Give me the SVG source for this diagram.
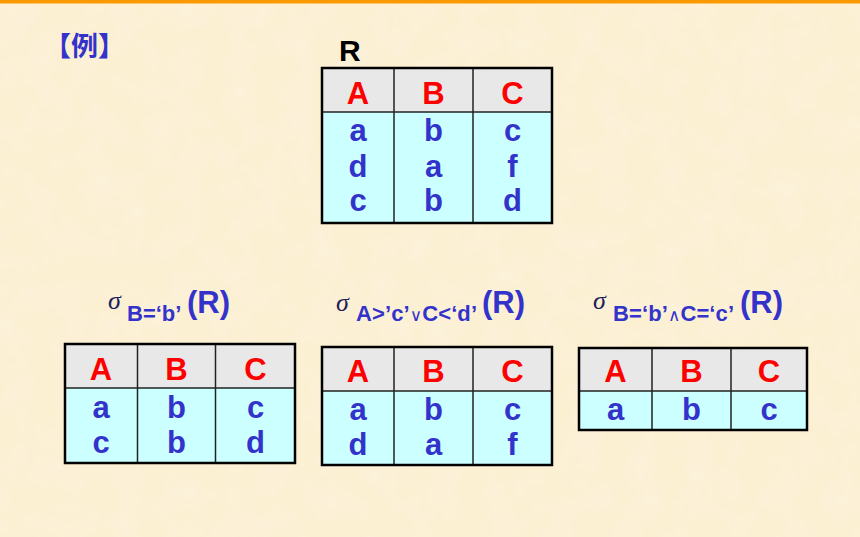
<svg xmlns="http://www.w3.org/2000/svg" width="860" height="537" viewBox="0 0 860 537">
<style>
.bg{fill:#FCF0D3}
.hdr{fill:#E8E8E8}
.body{fill:#CCFFFF}
.outer{fill:none;stroke:#000;stroke-width:2.5}
.inner{stroke:#222;stroke-width:1.5}
.h{font-family:"Liberation Sans",Arial,sans-serif;font-weight:bold;font-size:31px;fill:#FF0000;text-anchor:middle}
.v{font-family:"Liberation Sans",Arial,sans-serif;font-weight:bold;font-size:31px;fill:#3333CC;text-anchor:middle}
.sig{font-family:"Liberation Serif","Times New Roman",serif;font-style:italic;font-size:26px;fill:#1E1E5A}
.sub{font-family:"Liberation Sans","DejaVu Sans",Arial,sans-serif;font-weight:bold;font-size:22px;fill:#3333CC}
.op{font-family:"DejaVu Sans",sans-serif;font-weight:normal;font-size:17px}
.rr{font-family:"Liberation Sans",Arial,sans-serif;font-weight:bold;font-size:31px;fill:#3333CC}
</style>
<defs>
<filter id="tex" x="0" y="0" width="100%" height="100%">
<feTurbulence type="fractalNoise" baseFrequency="0.035" numOctaves="3" seed="4" result="n"/>
<feColorMatrix in="n" type="matrix" values="0 0 0 0 0.99  0 0 0 0 0.93  0 0 0 0 0.80  0 0 0 -1.2 0.75" result="c"/>
<feComposite in="c" in2="SourceGraphic" operator="over"/>
</filter>
</defs>
<rect class="bg" x="0" y="0" width="860" height="537"/>
<rect x="0" y="0" width="860" height="537" fill="#FCF0D3" filter="url(#tex)" opacity="0.6"/>
<rect x="0" y="0" width="860" height="3.5" fill="#FF9900"/>

<text x="44" y="56" font-family="'Noto Sans CJK SC',sans-serif" font-weight="bold" font-size="27" fill="#3333CC">【例】</text>

<g id="R">
<text x="339" y="61" font-family="'Liberation Sans',Arial,sans-serif" font-weight="bold" font-size="30" fill="#000">R</text>
<rect class="hdr" x="322" y="68" width="230" height="44"/>
<rect class="body" x="322" y="112" width="230" height="111"/>
<line class="inner" x1="394" y1="68" x2="394" y2="223"/>
<line class="inner" x1="473" y1="68" x2="473" y2="223"/>
<line class="inner" x1="322" y1="112" x2="552" y2="112"/>
<rect class="outer" x="322" y="68" width="230" height="155"/>
<text class="h" x="358" y="104">A</text><text class="h" x="433.5" y="104">B</text><text class="h" x="512.5" y="104">C</text>
<text class="v" x="358" y="141">a</text><text class="v" x="433.5" y="141">b</text><text class="v" x="512.5" y="141">c</text>
<text class="v" x="358" y="177">d</text><text class="v" x="433.5" y="177">a</text><text class="v" x="512.5" y="177">f</text>
<text class="v" x="358" y="211">c</text><text class="v" x="433.5" y="211">b</text><text class="v" x="512.5" y="211">d</text>
</g>

<g id="sel1">
<text class="sig" x="108" y="309">σ</text>
<text class="sub" x="127" y="321">B=‘b’</text>
<text class="rr" x="187" y="313">(R)</text>
<rect class="hdr" x="65" y="344" width="230" height="44"/>
<rect class="body" x="65" y="388" width="230" height="75"/>
<line class="inner" x1="137.5" y1="344" x2="137.5" y2="463"/>
<line class="inner" x1="215.5" y1="344" x2="215.5" y2="463"/>
<line class="inner" x1="65" y1="388" x2="295" y2="388"/>
<rect class="outer" x="65" y="344" width="230" height="119"/>
<text class="h" x="101" y="380">A</text><text class="h" x="176.5" y="380">B</text><text class="h" x="255.5" y="380">C</text>
<text class="v" x="101" y="418">a</text><text class="v" x="176.5" y="418">b</text><text class="v" x="255.5" y="418">c</text>
<text class="v" x="101" y="453">c</text><text class="v" x="176.5" y="453">b</text><text class="v" x="255.5" y="453">d</text>
</g>

<g id="sel2">
<text class="sig" x="336" y="311">σ</text>
<text class="sub" x="356" y="321" textLength="121" lengthAdjust="spacing">A&gt;’c’<tspan class="op">∨</tspan>C&lt;‘d’</text>
<text class="rr" x="482" y="313">(R)</text>
<rect class="hdr" x="322" y="347" width="230" height="44"/>
<rect class="body" x="322" y="391" width="230" height="74"/>
<line class="inner" x1="394" y1="347" x2="394" y2="465"/>
<line class="inner" x1="473" y1="347" x2="473" y2="465"/>
<line class="inner" x1="322" y1="391" x2="552" y2="391"/>
<rect class="outer" x="322" y="347" width="230" height="118"/>
<text class="h" x="358" y="382">A</text><text class="h" x="433.5" y="382">B</text><text class="h" x="512.5" y="382">C</text>
<text class="v" x="358" y="420">a</text><text class="v" x="433.5" y="420">b</text><text class="v" x="512.5" y="420">c</text>
<text class="v" x="358" y="455">d</text><text class="v" x="433.5" y="455">a</text><text class="v" x="512.5" y="455">f</text>
</g>

<g id="sel3">
<text class="sig" x="593" y="309">σ</text>
<text class="sub" x="613" y="321" textLength="121" lengthAdjust="spacing">B=‘b’<tspan class="op">∧</tspan>C=‘c’</text>
<text class="rr" x="740" y="313">(R)</text>
<rect class="hdr" x="579" y="348" width="228" height="43"/>
<rect class="body" x="579" y="391" width="228" height="39"/>
<line class="inner" x1="652" y1="348" x2="652" y2="430"/>
<line class="inner" x1="731" y1="348" x2="731" y2="430"/>
<line class="inner" x1="579" y1="391" x2="807" y2="391"/>
<rect class="outer" x="579" y="348" width="228" height="82"/>
<text class="h" x="615.5" y="382">A</text><text class="h" x="691.5" y="382">B</text><text class="h" x="769" y="382">C</text>
<text class="v" x="615.5" y="420">a</text><text class="v" x="691.5" y="420">b</text><text class="v" x="769" y="420">c</text>
</g>
</svg>
